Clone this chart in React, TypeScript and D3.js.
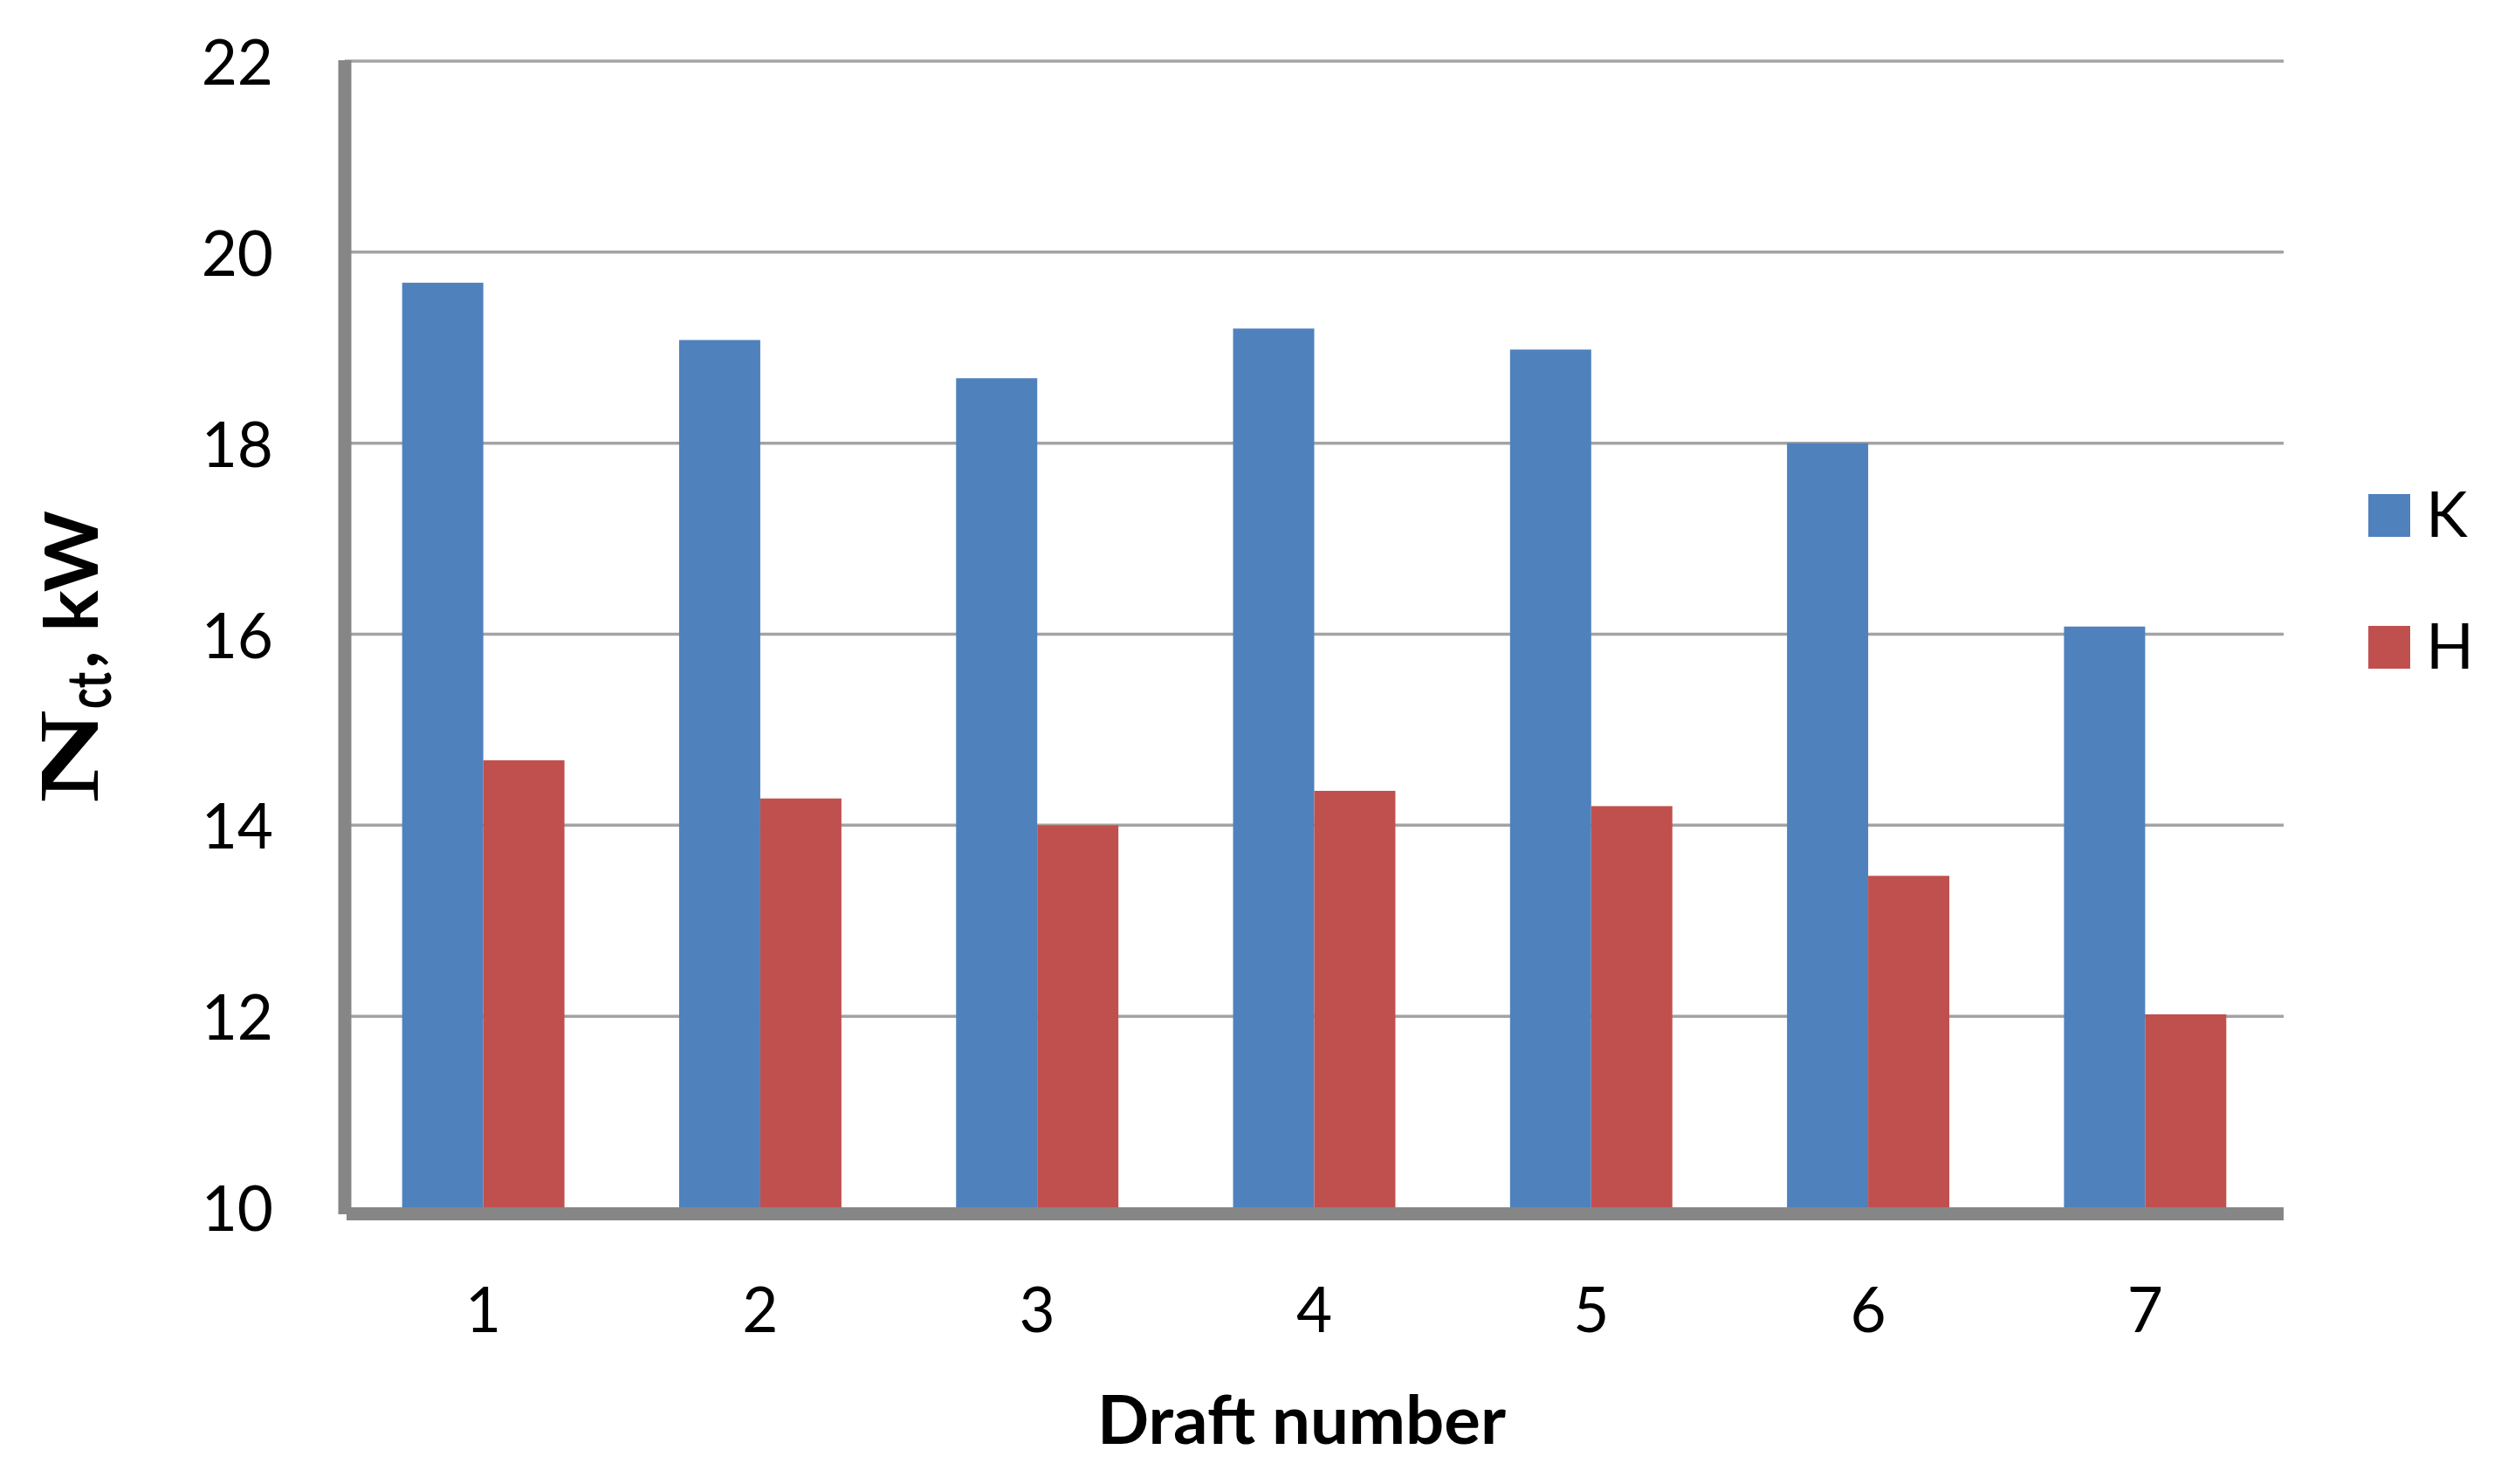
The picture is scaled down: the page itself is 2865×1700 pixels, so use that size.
import * as d3 from 'd3';

// values (Nct, kW per draft)
const drafts = ['1', '2', '3', '4', '5', '6', '7'];
const seriesNames = ['K', 'H'];
const kValues = [19.68, 19.08, 18.68, 19.2, 18.98, 18.0, 16.08];
const hValues = [14.68, 14.28, 14.0, 14.36, 14.2, 13.47, 12.02];
const yTicks = [10, 12, 14, 16, 18, 20, 22];
const colors = ['#4F81BD', '#C0504D'];

const width = 2865;
const height = 1700;
const plotLeft = 395;
const plotRight = 2616;
const plotTop = 70;
const plotBottom = 1383;

const tickFont = 'Lato, "Open Sans", sans-serif';

function App() {
  const x = d3
    .scaleBand()
    .domain(drafts)
    .range([plotLeft, plotRight])
    .paddingInner(0.414)
    .paddingOuter(0.207);

  const xSub = d3
    .scaleBand()
    .domain(seriesNames)
    .range([0, x.bandwidth()]);

  const y = d3.scaleLinear().domain([10, 22]).range([plotBottom, plotTop]);

  const series = [kValues, hValues];

  return (
    <svg
      width={width}
      height={height}
      style={{ position: 'absolute', left: 0, top: 0, background: '#fff' }}
    >
      {/* gridlines */}
      {yTicks
        .filter((t) => t > 10)
        .map((t) => (
          <line
            key={'g' + t}
            x1={plotLeft}
            x2={plotRight}
            y1={y(t)}
            y2={y(t)}
            stroke="#a3a3a3"
            strokeWidth={3.5}
          />
        ))}

      {/* bars */}
      {series.map((vals, si) =>
        vals.map((v, i) => (
          <rect
            key={seriesNames[si] + i}
            x={x(drafts[i]) + xSub(seriesNames[si])}
            y={y(v)}
            width={xSub.bandwidth()}
            height={y(10) - y(v)}
            fill={colors[si]}
          />
        ))
      )}

      {/* axes */}
      <line
        x1={plotLeft}
        x2={plotLeft}
        y1={plotTop - 1}
        y2={plotBottom + 8}
        stroke="#868686"
        strokeWidth={15}
      />
      <line
        x1={plotLeft + 2}
        x2={plotRight}
        y1={plotBottom + 7.5}
        y2={plotBottom + 7.5}
        stroke="#868686"
        strokeWidth={15}
      />

      {/* y tick labels */}
      {yTicks.map((t) => (
        <text
          key={'yt' + t}
          x={313}
          y={y(t) + 27}
          textAnchor="end"
          fontFamily={tickFont}
          fontSize={71}
          fill="#000"
        >
          {t}
        </text>
      ))}

      {/* x tick labels */}
      {drafts.map((d) => (
        <text
          key={'xt' + d}
          x={x(d) + x.bandwidth() / 2}
          y={1526}
          textAnchor="middle"
          fontFamily={tickFont}
          fontSize={71}
          fill="#000"
        >
          {d}
        </text>
      ))}

      {/* x axis title */}
      <text
        x={1257}
        y={1654}
        fontFamily={tickFont}
        fontWeight="bold"
        fontSize={76}
        textLength={468}
        lengthAdjust="spacingAndGlyphs"
      >
        Draft number
      </text>

      {/* y axis title, rotated */}
      <g transform="translate(112,752) rotate(-90)">
        <text
          x={-168}
          y={0}
          fontFamily='"Liberation Serif", serif'
          fontWeight="bold"
          fontSize={98}
          textLength={107}
          lengthAdjust="spacingAndGlyphs"
        >
          N
        </text>
        <text
          x={-60}
          y={15}
          fontFamily={tickFont}
          fontWeight="bold"
          fontSize={70}
          textLength={42}
          lengthAdjust="spacingAndGlyphs"
        >
          ct
        </text>
        <text
          x={-14}
          y={0}
          fontFamily={tickFont}
          fontWeight="bold"
          fontSize={84}
          textLength={181}
          lengthAdjust="spacingAndGlyphs"
        >
          , kW
        </text>
      </g>

      {/* legend */}
      {seriesNames.map((name, i) => (
        <g key={'lg' + name} transform={`translate(2713,${566 + i * 151})`}>
          <rect width={48} height={49} fill={colors[i]} />
          <text
            x={66}
            y={49}
            fontFamily={tickFont}
            fontSize={72}
            fill="#000"
          >
            {name}
          </text>
        </g>
      ))}
    </svg>
  );
}

export default App;
